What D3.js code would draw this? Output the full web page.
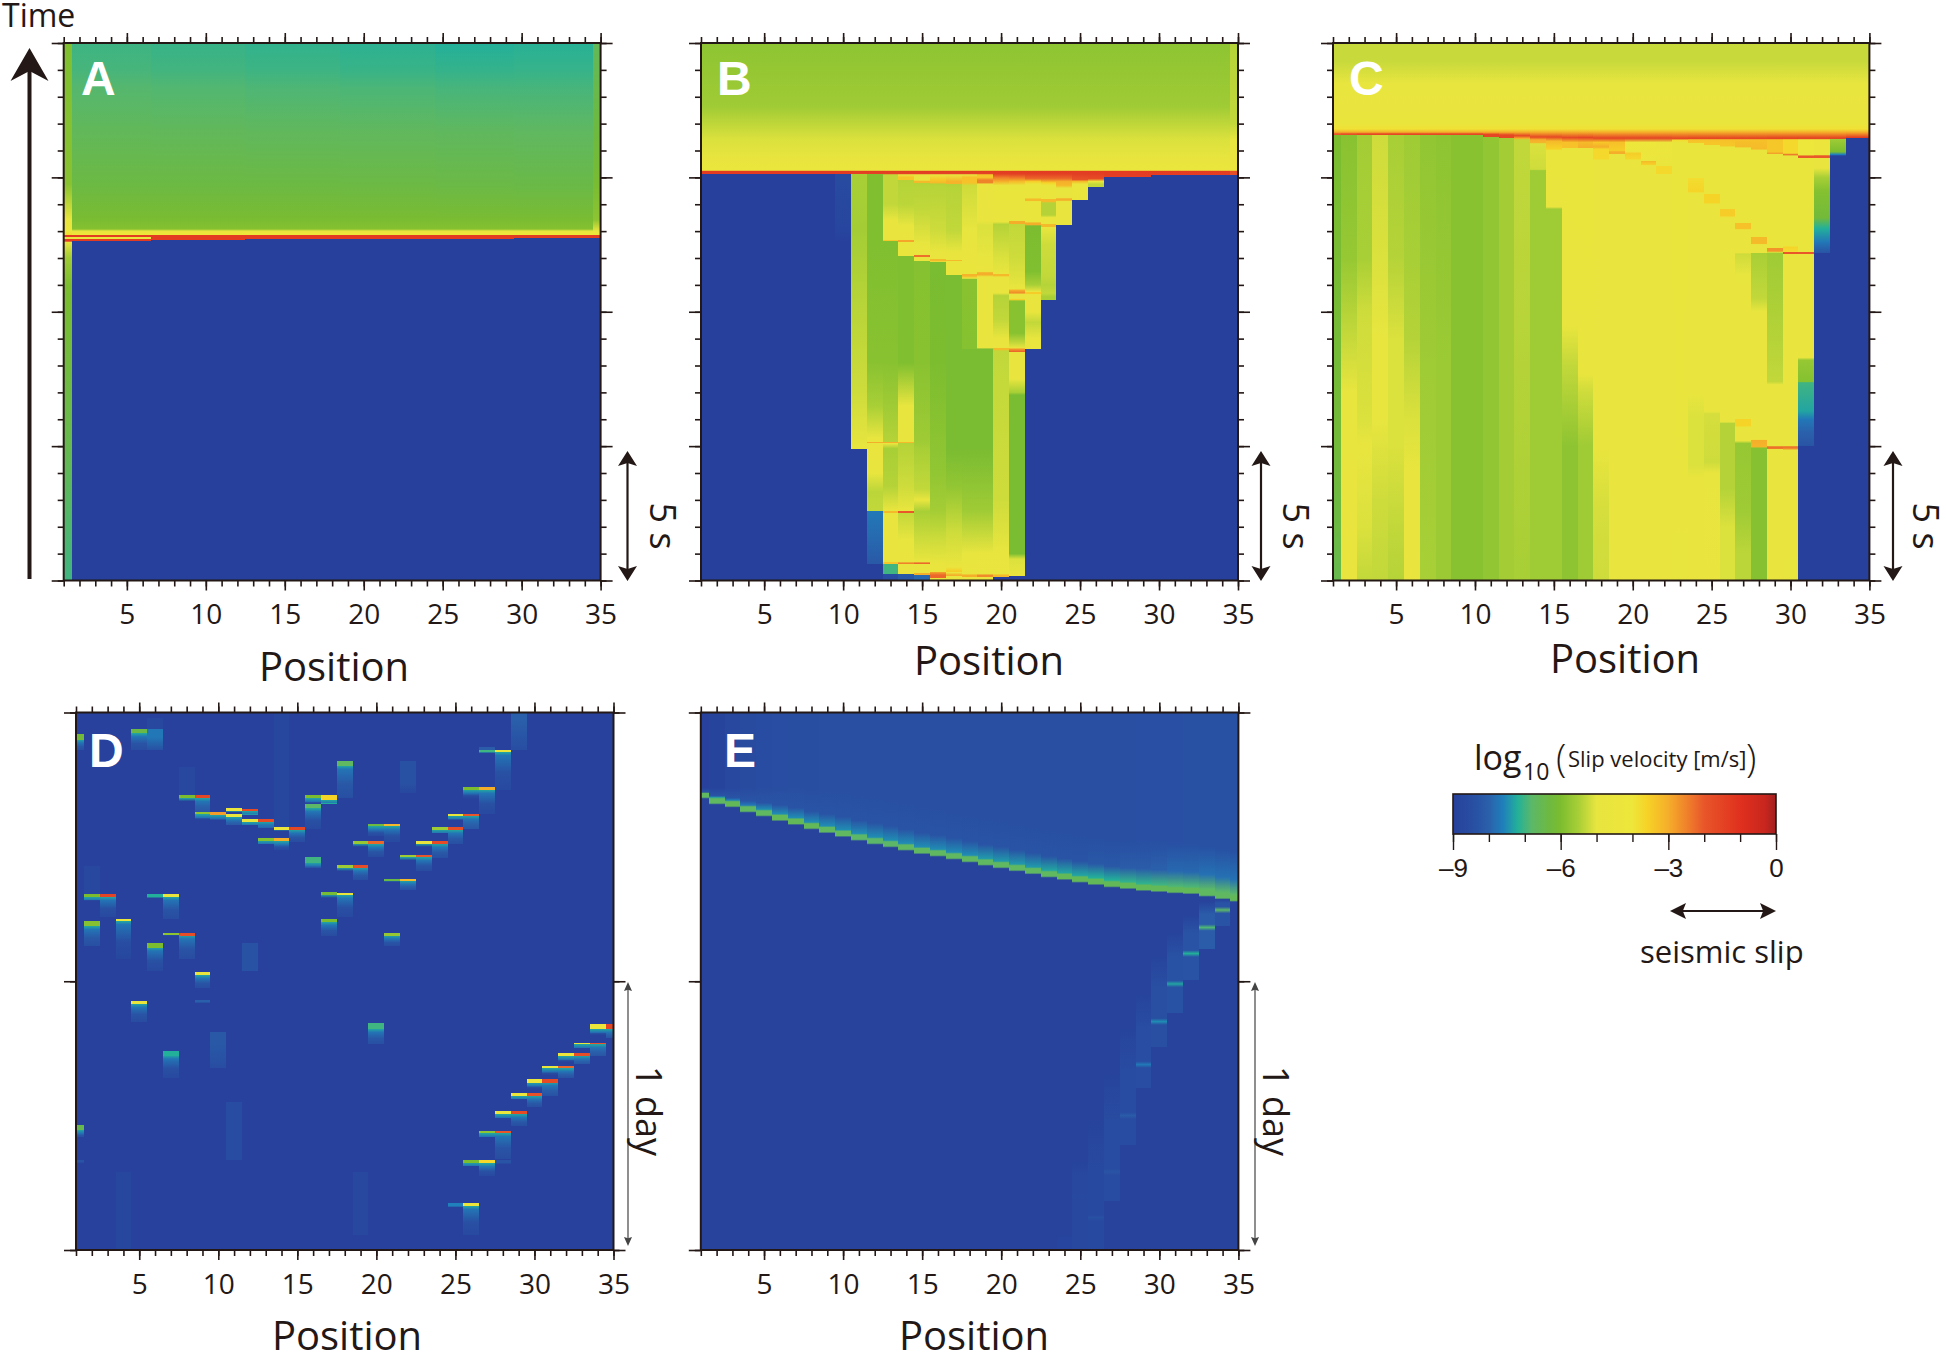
<!DOCTYPE html>
<html>

<head>
  <meta charset="utf-8">
  <title>Slip velocity</title>
  <style>
    body { margin: 0; background: #fff; }
    text { font-family: "Open Sans", sans-serif; fill: #231815; }
  </style>
</head>

<body>
  <script src="https://d3js.org/d3.v7.min.js"></script>
  <script>
    // colour bar, log10 slip velocity
    var colorValues = [-9, -8.4, -8, -7.6, -7.2, -6.8, -6.3, -6, -5.5, -5, -4, -3.6, -3, -2.4, -2, -1, -0.3, 0];
    var colorHexes = ["#27409b", "#2850a3", "#2a60ab", "#1f80bb", "#23b09a", "#5cb868", "#6eb93f", "#7cbd2f", "#a8cf36", "#e8e53f", "#eee63a", "#f6d327", "#f5ae2a", "#ee7a2a", "#e8562a", "#e0301e", "#c8261e", "#a02020"];

    var positionMajor = [5, 10, 15, 20, 25, 30, 35];
    var colorTicks = [-9, -8, -7, -6, -5, -4, -3, -2, -1, 0];
    var colorLabels = [-9, -6, -3, 0];

    // A-C: [first column, last column, [time s, log10 v] from top to bottom]
    var frontA = [[13.42, -6.05], [13.08, -5.9], [13, -4.8], [12.87, -4], [12.85, -1.3]];
    var columnsA = [
      [1, 1, [[20, -5.95], [14.73, -5.85], [13.42, -4.9], [13, -4.4], [12.87, -3.8], [12.85, -1.3], [12.77, -1.3], [12.77, -4.5], [12.72, -4.5], [12.72, -1.3], [12.62, -1.3], [12.6, -4.7], [12, -5.6], [11, -6], [5, -6.5], [0, -7]]],
      [2, 6, [[20, -7.02], [19, -6.95], [18.33, -6.85], [16.69, -6.62], [14.7, -6.35]].concat(frontA, [[12.77, -1.3], [12.77, -4.5], [12.72, -4.5], [12.72, -1.3], [12.64, -1.3], [12.64, -9], [0, -9]])],
      [7, 12, [[20, -7.06], [19, -6.98], [18.33, -6.87], [16.69, -6.63], [14.7, -6.35]].concat(frontA, [[12.68, -1.3], [12.68, -9], [0, -9]])],
      [13, 18, [[20, -7.1], [19, -7.02], [18.33, -6.9], [16.69, -6.65], [14.7, -6.35]].concat(frontA, [[12.7, -1.3], [12.7, -9], [0, -9]])],
      [19, 24, [[20, -7.14], [19, -7.05], [18.33, -6.92], [16.69, -6.66], [14.7, -6.36]].concat(frontA, [[12.7, -1.3], [12.7, -9], [0, -9]])],
      [25, 29, [[20, -7.2], [19, -7.08], [18.33, -6.95], [16.69, -6.68], [14.7, -6.38]].concat(frontA, [[12.72, -1.3], [12.72, -9], [0, -9]])],
      [30, 34, [[20, -7.17], [19, -7.07], [18.33, -6.95], [16.69, -6.7], [14.7, -6.4]].concat(frontA, [[12.73, -1.3], [12.73, -9], [0, -9]])],
      [35, 35, [[20, -6.6], [16.69, -6.3], [14.7, -6.05], [13.42, -5.8], [13, -4.8], [12.87, -4], [12.85, -1.3], [12.74, -1.3], [12.74, -9], [0, -9]]]
    ];

    var topB = [[20, -5.8], [17.66, -5.6], [16.4, -5.1], [15.6, -4.7], [15.26, -4.5], [15.24, -1.3]];
    var columnsB = [
      [1, 9, topB.concat([[15.13, -1.3], [15.13, -9], [0, -9]])],
      [10, 10, topB.concat([[15.13, -1.3], [15.13, -8.6], [13, -8.8], [12.6, -9], [0, -9]])],
      [11, 11, topB.concat([[15.13, -1.5], [15.13, -5.5], [13, -5.55], [7, -5.2], [4.91, -5], [4.91, -9], [0, -9]])],
      [12, 12, topB.concat([[15.13, -1.5], [15.13, -5.95], [12.6, -5.95], [8.1, -5.85], [6.5, -5.5], [5.3, -5], [5.17, -4.9], [5.17, -3], [5.1, -3], [5.1, -4.8], [4, -4.9], [3.3, -5.35], [2.57, -5.3], [2.57, -7.7], [1.5, -7.9], [0.61, -8.2], [0.61, -9], [0, -9]])],
      [13, 13, topB.concat([[15.13, -1.5], [15.1, -5.3], [14, -5.3], [13.4, -4.8], [12.67, -4.7], [12.67, -3.4], [12.62, -3.4], [12.62, -5.95], [8.1, -5.85], [6.5, -5.6], [5.17, -5.4], [5.17, -3], [5.1, -3], [5.1, -4.7], [4.91, -5.5], [3.5, -5.4], [2.6, -4.8], [2.6, -3.2], [2.53, -3.2], [2.53, -4.7], [0.7, -4.7], [0.7, -3.4], [0.6, -3.4], [0.6, -7], [0.25, -7], [0.25, -8.5], [0, -8.6]])],
      [14, 14, topB.concat([[15.13, -1.5], [15.1, -4.7], [15, -3.4], [14.9, -3.4], [14.9, -5.4], [14, -5.35], [13.2, -5], [12.67, -4.7], [12.67, -2.9], [12.6, -2.9], [12.6, -4.6], [12.08, -4.6], [12.08, -5.95], [8.1, -5.95], [6.5, -5], [5.17, -4.8], [5.17, -3.2], [5.1, -3.2], [5.1, -5.4], [3.5, -5.2], [2.6, -4.8], [2.6, -2], [2.53, -2], [2.53, -5.3], [1.5, -5], [0.7, -4.7], [0.65, -2.5], [0.6, -2.5], [0.6, -4.7], [0.24, -4.7], [0.24, -8.2], [0, -8.2]])],
      [15, 15, topB.concat([[15.13, -1.5], [15.1, -4.7], [14.9, -4.7], [14.85, -3.2], [14.8, -3.2], [14.8, -5.4], [13.8, -5.3], [12.5, -4.9], [12.1, -4.7], [12.1, -2.3], [12.03, -2.3], [12.03, -4.7], [11.9, -4.7], [11.9, -5.9], [8.1, -5.85], [5.15, -5.6], [4.9, -5.5], [3.4, -5.3], [3, -4.9], [2.57, -5.5], [1.5, -5.2], [0.7, -4.8], [0.65, -2.2], [0.6, -2.2], [0.6, -4.7], [0.28, -4.7], [0.28, -3], [0.2, -3], [0.2, -7.9], [0, -7.9]])],
      [16, 16, topB.concat([[15.13, -1.5], [15.1, -4.7], [14.9, -3.4], [14.8, -3.2], [14.75, -5.4], [13, -5.2], [12.2, -4.7], [11.97, -4.7], [11.97, -3.2], [11.9, -3.2], [11.85, -4.7], [11.85, -6.05], [8.1, -6], [4, -5.75], [2.6, -5.55], [1.5, -5.2], [0.6, -4.7], [0.3, -4.6], [0.3, -2.8], [0.2, -2.2], [0.1, -2.2], [0.1, -4.7], [0, -4.7]])],
      [17, 17, topB.concat([[15.13, -1.5], [15.1, -4.7], [14.85, -3.1], [14.75, -3.1], [14.75, -5.4], [13, -5.3], [12.2, -4.8], [11.93, -4.7], [11.93, -3.2], [11.87, -3.2], [11.87, -4.6], [11.36, -4.6], [11.36, -6.05], [4.9, -6.05], [3.5, -5.75], [1.8, -5.2], [0.5, -4.7], [0.35, -3.5], [0.3, -3.5], [0.3, -4.6], [0.2, -3], [0.15, -3], [0.15, -4.7], [0, -4.7]])],
      [18, 18, topB.concat([[15.13, -1.5], [15.1, -4.7], [15, -3.3], [14.8, -3.3], [14.7, -5.2], [13, -5], [12, -4.7], [11.4, -4.6], [11.4, -3.1], [11.33, -3.1], [11.25, -4.6], [11.2, -5.85], [8.6, -5.9], [8.6, -6.05], [4.9, -6.05], [2.6, -5.6], [1, -5], [0.25, -4.7], [0.2, -3], [0.14, -3], [0.14, -4.7], [0, -4.7]])],
      [19, 19, topB.concat([[15.13, -1.5], [15.1, -3.4], [15, -3.4], [14.9, -2.5], [14.8, -2.5], [14.75, -4.7], [13.4, -4.7], [13.2, -5.1], [12, -5], [11.5, -4.7], [11.45, -3], [11.38, -3], [11.3, -4.7], [8.65, -4.7], [8.62, -6.05], [4.9, -6.05], [2.6, -5.6], [1, -4.9], [0.25, -4.7], [0.2, -2.6], [0.14, -2.6], [0.14, -4.7], [0, -4.7]])],
      [20, 20, topB.concat([[15.13, -1.4], [14.98, -2.5], [14.85, -3], [14.7, -4.6], [13.35, -4.7], [13.25, -5.4], [12, -5.1], [11.4, -4.8], [11.4, -3.2], [11.33, -3.2], [11.3, -4.7], [10.7, -4.7], [10.6, -5.4], [9.7, -5.3], [9, -4.8], [8.65, -4.7], [8.65, -3.2], [8.58, -3.2], [8.55, -5.3], [3, -5.2], [1, -4.9], [0.25, -4.7], [0.2, -3.2], [0.14, -3.2], [0.14, -9], [0, -9]])],
      [21, 21, topB.concat([[15.13, -1.4], [14.98, -2.4], [14.85, -3.2], [14.7, -4.6], [13.37, -4.7], [13.37, -3], [13.27, -3], [13.25, -5.3], [12, -5.2], [10.85, -4.8], [10.8, -3], [10.7, -2.6], [10.65, -4.7], [10.5, -4.7], [10.45, -3.5], [10.4, -5.85], [9.2, -5.85], [8.85, -5.3], [8.65, -4.8], [8.62, -2.8], [8.52, -2.2], [8.5, -4.7], [7.5, -4.8], [7, -5.5], [6.9, -6.05], [1, -6.05], [0.8, -5.1], [0.16, -4.7], [0.16, -9], [0, -9]])],
      [22, 22, topB.concat([[15.13, -1.4], [14.95, -2.2], [14.85, -3.5], [14.75, -4.6], [14.23, -4.6], [14.2, -3.2], [14.13, -3.2], [14.1, -4.6], [13.35, -4.6], [13.3, -3], [13.23, -3], [13.2, -6], [11.5, -5.95], [11, -5.5], [10.75, -4.9], [10.72, -3.5], [10.66, -3.5], [10.64, -4.7], [10, -4.8], [9.6, -5.3], [9, -4.9], [8.62, -4.8], [8.62, -9], [0, -9]])],
      [23, 23, topB.concat([[15.13, -1.4], [14.95, -2.2], [14.8, -3.6], [14.7, -4.6], [14.2, -4.6], [14.18, -3.2], [14.1, -3.2], [14.05, -5.4], [13.6, -5.4], [13.5, -4.7], [13.25, -4.7], [13.25, -3.2], [13.17, -3.2], [13.15, -4.8], [12.5, -5.2], [11.3, -5.3], [11, -5.4], [10.7, -5.3], [10.55, -5.5], [10.45, -5.5], [10.45, -9], [0, -9]])],
      [24, 24, topB.concat([[15.13, -1.4], [14.95, -2.2], [14.85, -3], [14.7, -3.2], [14.6, -5], [14.25, -4.7], [14.2, -3], [14.15, -3], [14.1, -4.7], [13.23, -4.7], [13.23, -9], [0, -9]])],
      [25, 25, topB.concat([[15.13, -1.4], [14.92, -1.9], [14.85, -3.2], [14.75, -4.5], [14.15, -4.6], [14.15, -9], [0, -9]])],
      [26, 26, topB.concat([[15.13, -1.4], [14.95, -1.7], [14.85, -4.6], [14.75, -5.3], [14.63, -5.3], [14.63, -9], [0, -9]])],
      [27, 29, topB.concat([[15, -1.4], [15, -9], [0, -9]])],
      [30, 34, topB.concat([[15.1, -1.4], [15.1, -9], [0, -9]])],
      [35, 35, [[20, -5.4], [17, -5.3], [16.4, -5], [15.6, -4.7], [15.26, -4.5], [15.24, -1.8], [15.1, -1.8], [15.1, -9], [0, -9]]]
    ];

    var topC = [[20, -5.25], [19.3, -5.25], [18.5, -5], [17.7, -4.75], [17, -4.6], [16.8, -3.9], [16.68, -3]];
    var columnsC = [
      [1, 1, topC.concat([[16.62, -2], [16.56, -2], [16.56, -6], [5, -6.2], [2, -6.35], [0, -6.5]])],
      [2, 2, topC.concat([[16.62, -1.8], [16.56, -1.8], [16.56, -5.85], [12, -5.7], [10, -5.4], [7, -5], [3.5, -4.8], [0, -4.8]])],
      [3, 3, topC.concat([[16.62, -1.6], [16.56, -1.6], [16.56, -5.55], [12, -5.5], [10, -5.2], [6, -5.1], [5, -4.9], [2, -5.1], [0, -5.3]])],
      [4, 4, topC.concat([[16.62, -1.6], [16.56, -1.6], [16.56, -5.2], [12, -5.1], [9, -4.95], [6, -5], [3, -5.2], [0, -5.3]])],
      [5, 5, topC.concat([[16.62, -1.6], [16.56, -1.6], [16.56, -5.5], [12, -5.4], [9, -5.1], [5, -5.1], [2, -5.3], [0, -5.4]])],
      [6, 6, topC.concat([[16.62, -1.6], [16.56, -1.6], [16.56, -5.6], [12, -5.5], [9, -5.4], [6, -5.1], [4, -4.8], [0, -4.8]])],
      [7, 7, topC.concat([[16.62, -1.6], [16.56, -1.6], [16.56, -5.75], [8, -5.6], [0, -5.5]])],
      [8, 8, topC.concat([[16.62, -1.6], [16.56, -1.6], [16.56, -5.8], [8, -5.65], [0, -5.65]])],
      [9, 10, topC.concat([[16.62, -1.6], [16.56, -1.6], [16.56, -5.85], [0, -5.85]])],
      [11, 11, topC.concat([[16.6, -1.6], [16.52, -1.6], [16.52, -5.75], [0, -5.75]])],
      [12, 12, topC.concat([[16.58, -1.6], [16.48, -1.6], [16.48, -5.55], [0, -5.55]])],
      [13, 13, topC.concat([[16.55, -1.6], [16.45, -3], [16.4, -5.3], [8, -5.4], [0, -5.5]])],
      [14, 14, topC.concat([[16.5, -1.6], [16.4, -3], [16.3, -3.1], [16.25, -5.1], [15.3, -5.2], [15.25, -5.6], [0, -5.6]])],
      [15, 15, topC.concat([[16.5, -1.6], [16.35, -3.2], [16.05, -3.6], [16, -4.6], [13.9, -4.7], [13.82, -5.6], [0, -5.6]])],
      [16, 16, topC.concat([[16.48, -1.6], [16.3, -3.3], [16.1, -3.3], [16.08, -4.6], [9.5, -4.75], [8, -5.3], [5, -5.8], [0, -5.8]])],
      [17, 17, topC.concat([[16.48, -1.5], [16.3, -3.2], [16.1, -3], [16.08, -4.65], [7.7, -4.75], [7, -5.2], [5, -5.6], [0, -5.6]])],
      [18, 18, topC.concat([[16.46, -1.5], [16.3, -3.4], [16.13, -3], [16.05, -3.7], [15.68, -3.7], [15.65, -4.7], [5, -4.7], [2.6, -5.15], [0, -5.2]])],
      [19, 19, topC.concat([[16.46, -1.5], [16.3, -3.3], [16, -3.5], [15.95, -3], [15.88, -3], [15.85, -4.7], [3, -4.7], [1.8, -4.8], [0, -4.8]])],
      [20, 20, topC.concat([[16.46, -1.5], [16.3, -4], [15.95, -4.4], [15.9, -3.5], [15.68, -3.7], [15.65, -4.7], [0, -4.7]])],
      [21, 21, topC.concat([[16.46, -1.5], [16.3, -4.2], [15.6, -4.5], [15.6, -3.2], [15.46, -3.6], [15.44, -4.7], [0, -4.7]])],
      [22, 22, topC.concat([[16.46, -1.5], [16.3, -4.3], [15.41, -4.6], [15.41, -3.7], [15.14, -3.7], [15.12, -4.7], [0, -4.7]])],
      [23, 23, topC.concat([[16.45, -1.5], [16.38, -3.8], [16.3, -4.6], [2, -4.7], [1.7, -4.9], [0, -4.95]])],
      [24, 24, topC.concat([[16.45, -1.4], [16.4, -3.3], [16.29, -3.4], [16.27, -4.6], [14.96, -4.6], [14.96, -3.8], [14.45, -3.6], [14.43, -4.7], [7, -4.8], [6, -5.1], [4.3, -5.1], [3.8, -4.75], [0, -4.75]])],
      [25, 25, topC.concat([[16.45, -1.4], [16.4, -3.3], [16.21, -3.4], [16.19, -4.6], [14.37, -4.6], [14.37, -3.6], [14.06, -3.6], [14, -4.7], [6.3, -4.75], [6.2, -5.15], [4.4, -5.2], [4, -4.9], [0, -4.75]])],
      [26, 26, topC.concat([[16.45, -1.4], [16.4, -3.3], [16.16, -3.4], [16.14, -4.6], [13.82, -4.6], [13.82, -3.5], [13.58, -3.5], [13.5, -4.7], [12.3, -4.7], [12.2, -4.95], [11.8, -4.7], [5.9, -4.7], [5.85, -5.4], [3.4, -5.4], [2, -5.1], [0, -5.1]])],
      [27, 27, topC.concat([[16.45, -1.4], [16.4, -3.3], [16.13, -3.2], [16.1, -4.6], [13.29, -4.6], [13.29, -3.3], [13.1, -3.3], [13.05, -4.7], [12.2, -4.7], [12.15, -5.2], [11.35, -5], [10.9, -4.8], [6, -4.7], [6, -3.6], [5.77, -3.6], [5.7, -4.7], [5.2, -4.75], [5.1, -5.7], [2.6, -5.6], [1, -5.35], [0, -5.35]])],
      [28, 28, topC.concat([[16.45, -1.4], [16.4, -3.3], [16.05, -3.2], [16.02, -4.6], [12.78, -4.6], [12.78, -3.2], [12.54, -3.2], [12.5, -4.7], [12.2, -4.7], [12.18, -5.5], [10.5, -5.3], [10, -4.8], [5.25, -4.7], [5.21, -3], [4.97, -3.1], [4.93, -5.9], [0, -5.9]])],
      [29, 29, topC.concat([[16.45, -1.3], [16.4, -3.4], [15.95, -3.4], [15.89, -2.8], [15.87, -4.6], [12.38, -4.6], [12.38, -2.7], [12.25, -2.7], [12.22, -4.7], [12.18, -5.6], [9, -5.4], [7.4, -5.3], [7.28, -4.75], [5, -4.75], [4.98, -2.2], [4.91, -2.4], [4.89, -4.75], [0, -4.75]])],
      [30, 30, topC.concat([[16.45, -1.3], [16.4, -3.7], [15.9, -3.7], [15.84, -2.2], [15.8, -4.6], [12.45, -4.6], [12.4, -3.6], [12.22, -3.8], [12.22, -2], [12.15, -2], [12.13, -4.7], [5, -4.7], [4.98, -2.2], [4.91, -2.6], [4.85, -4.7], [1, -4.75], [0.51, -5], [0, -5]])],
      [31, 31, topC.concat([[16.45, -1.3], [16.4, -4.2], [15.83, -4.2], [15.8, -2], [15.74, -2], [15.72, -4.65], [12.22, -4.65], [12.22, -2], [12.15, -2], [12.13, -4.7], [8.3, -4.75], [8.2, -5.7], [7.4, -5.9], [7.36, -7], [6.3, -7.3], [6, -7.7], [5.5, -8], [5, -8.3], [5, -9], [0, -9]])],
      [32, 32, topC.concat([[16.45, -1.3], [16.4, -4.4], [15.85, -4.4], [15.8, -2], [15.74, -2], [15.72, -4.7], [15.35, -4.7], [15, -5.5], [14.5, -5.9], [13.5, -6.2], [13.1, -7.2], [12.6, -7.7], [12.2, -8.3], [12.2, -9], [0, -9]])],
      [33, 33, topC.concat([[16.45, -1.3], [16.42, -5.6], [15.95, -6], [15.85, -7.6], [15.8, -9], [0, -9]])],
      [34, 35, topC.concat([[16.48, -1.3], [16.48, -9], [0, -9]])]
    ];

    // D: [column, top day, bottom day, peak, day where the tail ends, tail value]
    var eventsD = [
      [1, 1.919, 1.899, -6.2, 1.860, -8.2], [1, 0.465, 0.446, -6.5, 0.42, -8.2], [1, 0.334, 0.328, -8.3, 0.325, -8.6],
      [2, 1.43, 1.324, -8.7, 1.324, -8.7], [2, 1.324, 1.313, -6, 1.30, -8.7], [2, 1.223, 1.204, -5.9, 1.13, -8.2],
      [3, 1.324, 1.313, -1.5, 1.239, -8.4],
      [4, 1.232, 1.223, -4.5, 1.083, -8.5], [4, 0.29, 0, -8.78, 0, -8.78],
      [5, 1.939, 1.922, -6.4, 1.860, -8.3], [5, 0.925, 0.915, -4.6, 0.85, -8.3],
      [6, 1.98, 1.939, -8.7, 1.939, -8.5], [6, 1.939, 1.91, -7.7, 1.860, -8.4], [6, 1.324, 1.313, -7.2, 1.31, -8.8], [6, 1.141, 1.125, -6, 1.037, -8.4],
      [7, 1.324, 1.313, -4.6, 1.231, -8.3], [7, 1.181, 1.172, -5.8, 1.17, -8.7], [7, 0.741, 0.723, -7.2, 0.64, -8.4],
      [8, 1.798, 1.692, -8.7, 1.692, -8.6], [8, 1.692, 1.681, -6, 1.67, -8.6], [8, 1.181, 1.17, -1.8, 1.083, -8.3],
      [9, 1.692, 1.681, -1.6, 1.63, -8], [9, 1.63, 1.621, -5.8, 1.60, -8.7], [9, 1.033, 1.023, -4.6, 0.974, -8.3], [9, 0.93, 0.925, -8, 0.92, -8.4],
      [10, 1.63, 1.618, -2.8, 1.60, -8.2], [10, 0.811, 0.765, -8.2, 0.679, -8.5],
      [11, 1.643, 1.633, -4.3, 1.63, -8], [11, 1.621, 1.611, -4.5, 1.58, -8], [11, 0.55, 0.334, -8.55, 0.334, -8.65],
      [12, 1.641, 1.633, -1.7, 1.62, -7.4], [12, 1.602, 1.593, -4.6, 1.58, -8.3], [12, 1.141, 1.037, -8.35, 1.037, -8.5],
      [13, 1.602, 1.593, -1.7, 1.57, -7.8], [13, 1.534, 1.523, -5.9, 1.51, -8.8],
      [14, 2, 1.574, -8.75, 1.574, -8.6], [14, 1.574, 1.563, -4.4, 1.56, -8.7], [14, 1.534, 1.521, -3, 1.49, -8.4],
      [15, 1.574, 1.563, -1.6, 1.518, -8.3],
      [16, 1.692, 1.681, -6, 1.66, -8.6], [16, 1.658, 1.643, -6.8, 1.565, -8.4], [16, 1.461, 1.441, -7, 1.42, -8.2],
      [17, 1.692, 1.674, -3.6, 1.661, -7.2], [17, 1.332, 1.322, -6.1, 1.31, -8.8], [17, 1.232, 1.22, -6, 1.169, -8.3],
      [18, 1.82, 1.801, -6.7, 1.681, -8.2], [18, 1.431, 1.422, -5.6, 1.41, -8.7], [18, 1.33, 1.321, -4.6, 1.239, -8.4],
      [19, 1.521, 1.512, -5.7, 1.50, -8.8], [19, 1.431, 1.422, -1.8, 1.378, -8.2], [19, 0.29, 0.057, -8.7, 0.057, -8.7],
      [20, 1.584, 1.576, -6.3, 1.54, -8.4], [20, 1.521, 1.51, -2.2, 1.464, -8.3], [20, 0.845, 0.822, -7, 0.765, -8.2],
      [21, 1.584, 1.576, -3.2, 1.518, -8.4], [21, 1.382, 1.374, -6.4, 1.37, -8.8], [21, 1.181, 1.17, -5.7, 1.13, -8.3],
      [22, 1.82, 1.733, -8.4, 1.70, -8.75], [22, 1.47, 1.461, -5.6, 1.45, -8.6], [22, 1.382, 1.374, -3.2, 1.34, -8.1],
      [23, 1.521, 1.512, -4.8, 1.50, -8.8], [23, 1.47, 1.461, -2, 1.41, -8.3],
      [24, 1.573, 1.563, -5.6, 1.55, -8.7], [24, 1.521, 1.51, -1.7, 1.459, -8.2],
      [25, 1.621, 1.615, -4.6, 1.60, -8.6], [25, 1.573, 1.562, -1.8, 1.51, -8.2], [25, 0.174, 0.163, -7.6, 0.16, -8.8],
      [26, 1.722, 1.712, -6, 1.68, -8.6], [26, 1.621, 1.615, -2, 1.565, -8], [26, 0.334, 0.325, -6, 0.31, -8.8], [26, 0.174, 0.163, -4.4, 0.057, -8.4],
      [27, 1.87, 1.86, -8.1, 1.85, -8.5], [27, 1.86, 1.852, -7, 1.85, -8.8], [27, 1.722, 1.711, -3, 1.621, -8.4], [27, 0.443, 0.434, -5.8, 0.42, -8.7], [27, 0.334, 0.322, -3.7, 0.275, -8.4],
      [28, 1.86, 1.852, -4.6, 1.712, -8.4], [28, 0.516, 0.505, -4.5, 0.49, -8.7], [28, 0.443, 0.434, -2, 0.337, -8.3], [28, 0.334, 0.325, -8.3, 0.32, -8.8],
      [29, 2, 1.981, -8, 1.86, -8.5], [29, 0.584, 0.573, -4.4, 0.56, -8.7], [29, 0.516, 0.505, -1.7, 0.462, -8.2],
      [30, 0.636, 0.623, -4.4, 0.60, -8.6], [30, 0.584, 0.573, -1.9, 0.531, -8.2],
      [31, 0.684, 0.676, -4.5, 0.65, -8.6], [31, 0.636, 0.623, -1.7, 0.573, -8.1],
      [32, 0.732, 0.721, -4.4, 0.70, -8.6], [32, 0.684, 0.676, -2.2, 0.64, -8.1],
      [33, 0.772, 0.765, -4.6, 0.75, -8.6], [33, 0.732, 0.723, -1.8, 0.692, -8],
      [34, 0.84, 0.822, -4.4, 0.80, -8.6], [34, 0.772, 0.765, -2, 0.723, -8],
      [35, 0.84, 0.822, -1.6, 0.79, -8]
    ];

    // E: front day, peak, glow just above the front, value at the top, glow height (days)
    var frontE = [1.691, 1.669, 1.658, 1.639, 1.624, 1.607, 1.593, 1.576, 1.562, 1.548, 1.534, 1.52, 1.509, 1.497, 1.484, 1.475, 1.464, 1.453, 1.441, 1.431, 1.42, 1.409, 1.397, 1.388, 1.378, 1.369, 1.36, 1.354, 1.347, 1.343, 1.338, 1.335, 1.326, 1.316, 1.307];
    var peakE = [-6.7, -6.7, -6.6, -6.7, -6.7, -6.6, -6.6, -6.6, -6.7, -6.7, -6.8, -6.8, -6.8, -6.7, -6.7, -6.7, -6.7, -6.7, -6.7, -6.7, -6.7, -6.7, -6.7, -6.6, -6.6, -6.6, -6.6, -6.6, -6.6, -6.6, -6.6, -6.6, -6.7, -6.7, -6.6];
    var glowE = [-8.6, -7.4, -7.6, -7.7, -7.5, -7.5, -7.5, -7.5, -7.5, -7.5, -7.5, -7.5, -7.5, -7.5, -7.5, -7.5, -7.5, -7.5, -7.4, -7.4, -7.4, -7.4, -7.3, -7.3, -7.3, -7.2, -7.2, -7.1, -7.1, -7, -6.9, -6.9, -6.8, -6.8, -6.8];
    var topE = [-8.95, -8.85, -8.7, -8.6, -8.55, -8.5, -8.48, -8.46, -8.45, -8.45, -8.45, -8.45, -8.45, -8.45, -8.45, -8.45, -8.45, -8.45, -8.45, -8.45, -8.45, -8.45, -8.45, -8.45, -8.45, -8.45, -8.45, -8.45, -8.42, -8.42, -8.42, -8.4, -8.4, -8.4, -8.4];
    var spanE = [0.03, 0.05, 0.06, 0.08, 0.1, 0.12, 0.13, 0.14, 0.15, 0.16, 0.16, 0.17, 0.17, 0.17, 0.17, 0.17, 0.17, 0.17, 0.17, 0.17, 0.17, 0.17, 0.17, 0.17, 0.17, 0.17, 0.17, 0.17, 0.18, 0.18, 0.18, 0.18, 0.18, 0.18, 0.18];
    // slower front: column, top day, bottom day, value, bright day, bright value
    var creepE = [
      [34, 1.316, 1.207, -8.3, 1.265, -6.8],
      [33, 1.296, 1.119, -8.1, 1.2, -6.9],
      [32, 1.246, 1.005, -8.3, 1.103, -7.2],
      [31, 1.184, 0.881, -8.35, 0.99, -7.3],
      [30, 1.099, 0.757, -8.45, 0.85, -7.5],
      [29, 0.959, 0.601, -8.5, 0.69, -7.7],
      [28, 0.835, 0.392, -8.55, 0.5, -8.1],
      [27, 0.664, 0.182, -8.55, 0.291, -8.3],
      [26, 0.493, 0, -8.65, 0.12, -8.4],
      [25, 0.337, 0, -8.7, 0.2, -8.65],
      [24, 0.057, 0, -8.8, 0.03, -8.8]
    ];

    var color = d3.scaleLinear().domain(colorValues).range(colorHexes);
    var svg = d3.select("body").append("svg").attr("width", 1946).attr("height", 1355);
    var defs = svg.append("defs");
    var ink = "#231815";

    // knots for one column of panel D
    function columnsFromEvents(events) {
      var out = [];
      d3.range(1, 36).forEach(function (c) {
        var list = events.filter(function (e) { return e[0] == c; });
        var knots = [[2, -8.95]];
        list.forEach(function (e, i) {
          var next = list[i + 1];
          var end = next ? Math.max(e[4], next[1]) : e[4];
          knots.push([e[1], -8.95], [e[1], e[3]], [e[2], e[3]]);
          if (e[3] > -7.4) {
            var start = e[2] - 0.012;
            knots.push([e[2], -7.3]);
            if (start > end) knots.push([start, -7.75], [(start + end) / 2, e[5]]);
            knots.push([end, e[5] - 0.25]);
          } else {
            knots.push([end, e[5]]);
          }
          knots.push([end, -8.95]);
        });
        knots.push([0, -8.95]);
        out.push([c, c, knots]);
      });
      return out;
    }

    // knots for one column of panel E
    function columnsFromFront() {
      return frontE.map(function (f, i) {
        var c = i + 1;
        var far = Math.max(glowE[i] - 1, -8.3);
        var knots = [[2, topE[i]], [f + spanE[i], topE[i]], [f + spanE[i] * 0.4, far], [f + 0.016, glowE[i]], [f + 0.01, peakE[i]], [f - 0.006, peakE[i]], [f - 0.012, -8.9]];
        creepE.filter(function (e) { return e[0] == c; }).forEach(function (e) {
          var soft = (e[1] + e[4]) / 2;
          knots.push([e[1], -8.9], [soft, e[3]], [e[4] + 0.012, e[3]], [e[4], e[5]], [e[4] - 0.012, e[3]], [e[2], e[3]], [e[2], -8.9]);
        });
        knots.push([0, -8.9]);
        return [c, c, knots];
      });
    }

    function drawPanel(p) {
      var x = d3.scaleLinear().domain([1, 35]).range([p.left, p.right]);
      var y = d3.scaleLinear().domain(p.time).range([p.bottom, p.top]);
      var g = svg.append("g");

      p.columns.forEach(function (col) {
        var id = "grad" + p.name + col[0];
        var grad = defs.append("linearGradient").attr("id", id)
          .attr("gradientUnits", "userSpaceOnUse")
          .attr("x1", 0).attr("x2", 0).attr("y1", p.top).attr("y2", p.bottom);
        grad.selectAll("stop").data(col[2]).enter().append("stop")
          .attr("offset", function (k) { return (y(k[0]) - p.top) / (p.bottom - p.top); })
          .attr("stop-color", function (k) { return color(k[1]); });
        var x0 = x(Math.max(1, col[0] - 0.5));
        var x1 = x(Math.min(35, col[1] + 0.5));
        g.append("rect").attr("x", x0).attr("y", p.top)
          .attr("width", x1 - x0).attr("height", p.bottom - p.top)
          .attr("shape-rendering", "crispEdges")
          .attr("fill", "url(#" + id + ")");
      });

      svg.append("rect").attr("x", p.left).attr("y", p.top)
        .attr("width", p.right - p.left).attr("height", p.bottom - p.top)
        .attr("fill", "none").attr("stroke", ink).attr("stroke-width", 2);

      var axes = svg.append("g");
      var allPos = d3.range(1, 36);
      function add(axis, tx, ty) {
        var a = axes.append("g").attr("transform", "translate(" + tx + "," + ty + ")").call(axis);
        a.select(".domain").remove();
        a.selectAll("line").attr("stroke", ink).attr("stroke-width", 1.6);
        return a;
      }
      add(d3.axisBottom(x).tickValues(allPos).tickSize(6).tickFormat(""), 0, p.bottom);
      add(d3.axisTop(x).tickValues(allPos).tickSize(6).tickFormat(""), 0, p.top);
      add(d3.axisTop(x).tickValues(positionMajor).tickSize(10).tickFormat(""), 0, p.top);
      var lab = add(d3.axisBottom(x).tickValues(positionMajor).tickSize(10).tickPadding(14), 0, p.bottom);
      lab.selectAll("text").style("font-size", "28px").style("font-family", '"Open Sans"').attr("fill", ink);

      add(d3.axisLeft(y).tickValues(p.minor).tickSize(6).tickFormat(""), p.left, 0);
      add(d3.axisRight(y).tickValues(p.minor).tickSize(6).tickFormat(""), p.right, 0);
      add(d3.axisLeft(y).tickValues(p.major).tickSize(12).tickFormat(""), p.left, 0);
      add(d3.axisRight(y).tickValues(p.major).tickSize(12).tickFormat(""), p.right, 0);

      svg.append("text").attr("x", p.titleX).attr("y", p.titleY)
        .attr("text-anchor", "middle").style("font-size", "40px").text("Position");

      svg.append("text").attr("x", p.letterX).attr("y", p.letterY)
        .style("font-family", '"Liberation Sans"').style("font-weight", "bold")
        .style("font-size", "48px").style("fill", "#fff").text(p.name);
    }

    function arrow(x0, y0, x1, y1, w, headLen, headW, col, notch) {
      var a = Math.atan2(y1 - y0, x1 - x0);
      svg.append("line")
        .attr("x1", x0).attr("y1", y0)
        .attr("x2", x1 - Math.cos(a) * headLen * 0.7).attr("y2", y1 - Math.sin(a) * headLen * 0.7)
        .attr("stroke", col).attr("stroke-width", w);
      var g = svg.append("g").attr("transform", "translate(" + x1 + "," + y1 + ") rotate(" + (a * 180 / Math.PI) + ")");
      g.append("path").attr("fill", col)
        .attr("d", "M0,0L" + (-headLen) + "," + (-headW / 2) + "L" + (-headLen * notch) + ",0L" + (-headLen) + "," + (headW / 2) + "Z");
    }

    function sideLabel(tx, ty, s) {
      svg.append("text").attr("transform", "translate(" + tx + "," + ty + ") rotate(90)")
        .attr("text-anchor", "middle").style("font-size", "36px").text(s);
    }

    var secMinor = d3.range(0, 21);
    var secMajor = [0, 5, 10, 15, 20];
    var dayTicks = [0, 1, 2];

    drawPanel({ name: "A", left: 63.7, right: 600.6, top: 43, bottom: 580.5, time: [0, 20], minor: secMinor, major: secMajor, columns: columnsA, titleX: 334, titleY: 681, letterX: 81, letterY: 95 });
    drawPanel({ name: "B", left: 701, right: 1238, top: 43, bottom: 580.5, time: [0, 20], minor: secMinor, major: secMajor, columns: columnsB, titleX: 989, titleY: 675, letterX: 717, letterY: 95 });
    drawPanel({ name: "C", left: 1333, right: 1869.4, top: 43, bottom: 580.5, time: [0, 20], minor: secMinor, major: secMajor, columns: columnsC, titleX: 1625, titleY: 673, letterX: 1349, letterY: 95 });
    drawPanel({ name: "D", left: 76, right: 613.5, top: 712.5, bottom: 1250, time: [0, 2], minor: dayTicks, major: dayTicks, columns: columnsFromEvents(eventsD), titleX: 347, titleY: 1350, letterX: 89, letterY: 767 });
    drawPanel({ name: "E", left: 700.8, right: 1238.4, top: 712.5, bottom: 1250, time: [0, 2], minor: dayTicks, major: dayTicks, columns: columnsFromFront(), titleX: 974, titleY: 1350, letterX: 724, letterY: 767 });

    // time arrow
    svg.append("text").attr("x", 2).attr("y", 27).style("font-size", "32px").text("Time");
    arrow(29.5, 579, 29.5, 48, 4, 33, 38, ink, 0.7);

    // scale arrows
    [627.5, 1261, 1893].forEach(function (ax) {
      arrow(ax, 516, ax, 451, 2.2, 15, 19, ink, 0.8);
      arrow(ax, 516, ax, 581, 2.2, 15, 19, ink, 0.8);
    });
    sideLabel(650, 526, "5 s");
    sideLabel(1283, 526, "5 s");
    sideLabel(1913, 526, "5 s");

    [628, 1255].forEach(function (ax) {
      arrow(ax, 1114, ax, 982, 1.2, 9, 8, "#444", 0.85);
      arrow(ax, 1114, ax, 1246, 1.2, 9, 8, "#444", 0.85);
    });
    sideLabel(636, 1111, "1 day");
    sideLabel(1263, 1111, "1 day");

    // colour bar
    var barX = d3.scaleLinear().domain([-9, 0]).range([1453, 1776]);
    var barGrad = defs.append("linearGradient").attr("id", "barGrad");
    barGrad.selectAll("stop").data(colorValues).enter().append("stop")
      .attr("offset", function (v) { return (v + 9) / 9; })
      .attr("stop-color", function (v) { return color(v); });
    svg.append("rect").attr("x", 1453).attr("y", 794).attr("width", 323).attr("height", 40)
      .attr("fill", "url(#barGrad)").attr("stroke", ink).attr("stroke-width", 1.6);

    var barMinor = svg.append("g").attr("transform", "translate(0,834)")
      .call(d3.axisBottom(barX).tickValues(colorTicks).tickSize(8).tickFormat(""));
    barMinor.select(".domain").remove();
    barMinor.selectAll("line").attr("stroke", ink).attr("stroke-width", 1.4);
    var barMajor = svg.append("g").attr("transform", "translate(0,834)")
      .call(d3.axisBottom(barX).tickValues(colorLabels).tickSize(16).tickPadding(9)
        .tickFormat(function (d) { return d < 0 ? "\u2013" + Math.abs(d) : d; }));
    barMajor.select(".domain").remove();
    barMajor.selectAll("line").attr("stroke", ink).attr("stroke-width", 1.4);
    barMajor.selectAll("text").style("font-family", '"Liberation Sans"').style("font-size", "26px").attr("fill", ink);

    // colour bar title
    svg.append("text").attr("x", 1474).attr("y", 770).style("font-size", "34px").text("log");
    svg.append("text").attr("x", 1523).attr("y", 780).style("font-size", "23px").text("10");
    svg.append("text").attr("x", 1556).attr("y", 772).style("font-size", "38px").style("font-weight", "300").text("(");
    svg.append("text").attr("x", 1568).attr("y", 767).style("font-size", "22px").text("Slip velocity [m/s]");
    svg.append("text").attr("x", 1746).attr("y", 772).style("font-size", "38px").style("font-weight", "300").text(")");

    arrow(1723, 911, 1670, 911, 2, 16, 16, ink, 0.8);
    arrow(1723, 911, 1776, 911, 2, 16, 16, ink, 0.8);
    svg.append("text").attr("x", 1640).attr("y", 963).style("font-size", "31px").text("seismic slip");
  </script>
</body>

</html>
